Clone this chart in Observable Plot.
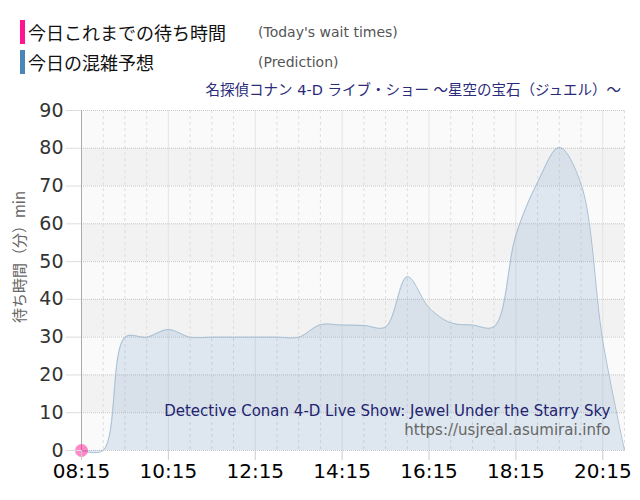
<!DOCTYPE html>
<html>
<head>
<meta charset="utf-8">
<script src="https://cdn.jsdelivr.net/npm/d3@7"></script>
<script src="https://cdn.jsdelivr.net/npm/@observablehq/plot@0.6"></script>
<style>
  html, body { margin: 0; padding: 0; background: #fff; }
  #wrap { position: relative; width: 640px; height: 500px; overflow: hidden; font-family: "DejaVu Sans", "Noto Sans CJK JP", sans-serif; }
  #wrap svg { position: absolute; left: 0; top: 0; }
  .bar { position: absolute; left: 20px; width: 5px; height: 24px; }
  .jp { position: absolute; left: 28px; font-family: "Noto Sans CJK JP", sans-serif; font-size: 18px; color: #111; line-height: 24px; }
  .en { position: absolute; left: 258px; font-family: "DejaVu Sans", sans-serif; font-size: 14px; color: #555; line-height: 24px; }
  #title { position: absolute; right: 19px; top: 81px; font-family: "DejaVu Sans", "Noto Sans CJK JP", sans-serif; font-size: 14.5px; color: #2b2b7a; line-height: 18px; white-space: nowrap; }
  #ylab { position: absolute; left: 18px; top: 257px; transform: translate(-50%, -50%) rotate(-90deg); font-family: "Noto Sans CJK JP", "DejaVu Sans", sans-serif; font-size: 15px; color: #666; white-space: nowrap; }
</style>
</head>
<body>
<div id="wrap">
  <div class="bar" style="top:20px;background:#ff1493"></div>
  <div class="jp" style="top:20px">今日これまでの待ち時間</div>
  <div class="en" style="top:20px">(Today's wait times)</div>
  <div class="bar" style="top:50px;background:#4a86b8"></div>
  <div class="jp" style="top:50px">今日の混雑予想</div>
  <div class="en" style="top:50px">(Prediction)</div>
  <div id="title">名探偵コナン 4-D ライブ・ショー ～星空の宝石（ジュエル）～</div>
  <div id="ylab">待ち時間（分）min</div>
</div>
<script>
// ---- data ----
const times = ["08:15","08:45","09:15","09:45","10:15","10:45","11:15","11:45","12:15","12:45","13:15","13:45","14:15","14:45","15:15","15:45","16:15","16:45","17:15","17:45","18:15","18:45","19:15","19:45","20:15","20:45"];
const predictionValues = [0,0,30,30,32,30,30,30,30,30,30,33.3,33.2,33.1,32.7,46,37.8,33.8,33.2,32.8,57,71,80.2,70.5,29,0];
const todayTimes = ["08:15"];
const todayValues = [0];
const xTickLabels = ["08:15","10:15","12:15","14:15","16:15","18:15","20:15"];
const yTicks = [0,10,20,30,40,50,60,70,80,90];
const captionEn = "Detective Conan 4-D Live Show: Jewel Under the Starry Sky";
const captionUrl = "https://usjreal.asumirai.info";

// ---- build ----
const parse = s => { const [h, m] = s.split(":").map(Number); return h + m / 60; };
const pred = times.map((t, i) => ({t: parse(t), v: predictionValues[i]}));
const today = todayTimes.map((t, i) => ({t: parse(t), v: todayValues[i]}));
const xTickVals = xTickLabels.map(parse);
const halfHours = times.map(parse).filter(v => !xTickVals.includes(v));
const yMax = yTicks[yTicks.length - 1];
const bands = yTicks.filter((d, i) => i % 2 === 1 && d < yMax);
const x0 = parse(times[0]), x1 = parse(times[times.length - 1]);

const chart = Plot.plot({
  width: 640,
  height: 500,
  marginTop: 110,
  marginLeft: 81,
  marginRight: 16,
  marginBottom: 50,
  style: {background: "transparent", fontFamily: "DejaVu Sans, sans-serif"},
  x: {domain: [x0, x1]},
  y: {domain: [0, yMax]},
  marks: [
    Plot.frame({fill: "#fafafa", stroke: null}),
    Plot.rect(bands, {y1: d => d, y2: d => d + 10, fill: "#f2f2f2"}),
    Plot.ruleX(halfHours, {stroke: "#dedede", strokeDasharray: "3,3"}),
    Plot.ruleX(xTickVals, {stroke: "#e4e4e4"}),
    Plot.ruleY(yTicks, {stroke: "#c8c8c8", strokeDasharray: "1,1"}),
    Plot.areaY(pred, {x: "t", y: "v", curve: "catmull-rom", fill: "steelblue", fillOpacity: 0.15}),
    Plot.lineY(pred, {x: "t", y: "v", curve: "catmull-rom", stroke: "#a6bfd5", strokeWidth: 1}),
    Plot.ruleX([x0], {stroke: "#aaaaaa"}),
    Plot.dot(today, {x: "t", y: "v", r: 6.5, fill: "deeppink", fillOpacity: 0.5, stroke: null}),
    Plot.text([captionEn], {text: d => d, frameAnchor: "bottom-right", dx: -14, dy: -39, textAnchor: "end", lineAnchor: "middle", fontSize: 15, fill: "#232370"}),
    Plot.text([captionUrl], {text: d => d, frameAnchor: "bottom-right", dx: -14, dy: -20, textAnchor: "end", lineAnchor: "middle", fontSize: 15, fill: "#666"}),
    Plot.axisY({ticks: yTicks, tickSize: 15, tickPadding: 3, fontSize: 19, stroke: "#dddddd", fill: "#333", label: null}),
    Plot.axisX({ticks: xTickVals, tickFormat: d => xTickLabels[xTickVals.indexOf(d)], tickSize: 10, tickPadding: 3, fontSize: 20, stroke: "#cccccc", fill: "#000", label: null})
  ]
});
document.getElementById("wrap").prepend(chart);
</script>
</body>
</html>
